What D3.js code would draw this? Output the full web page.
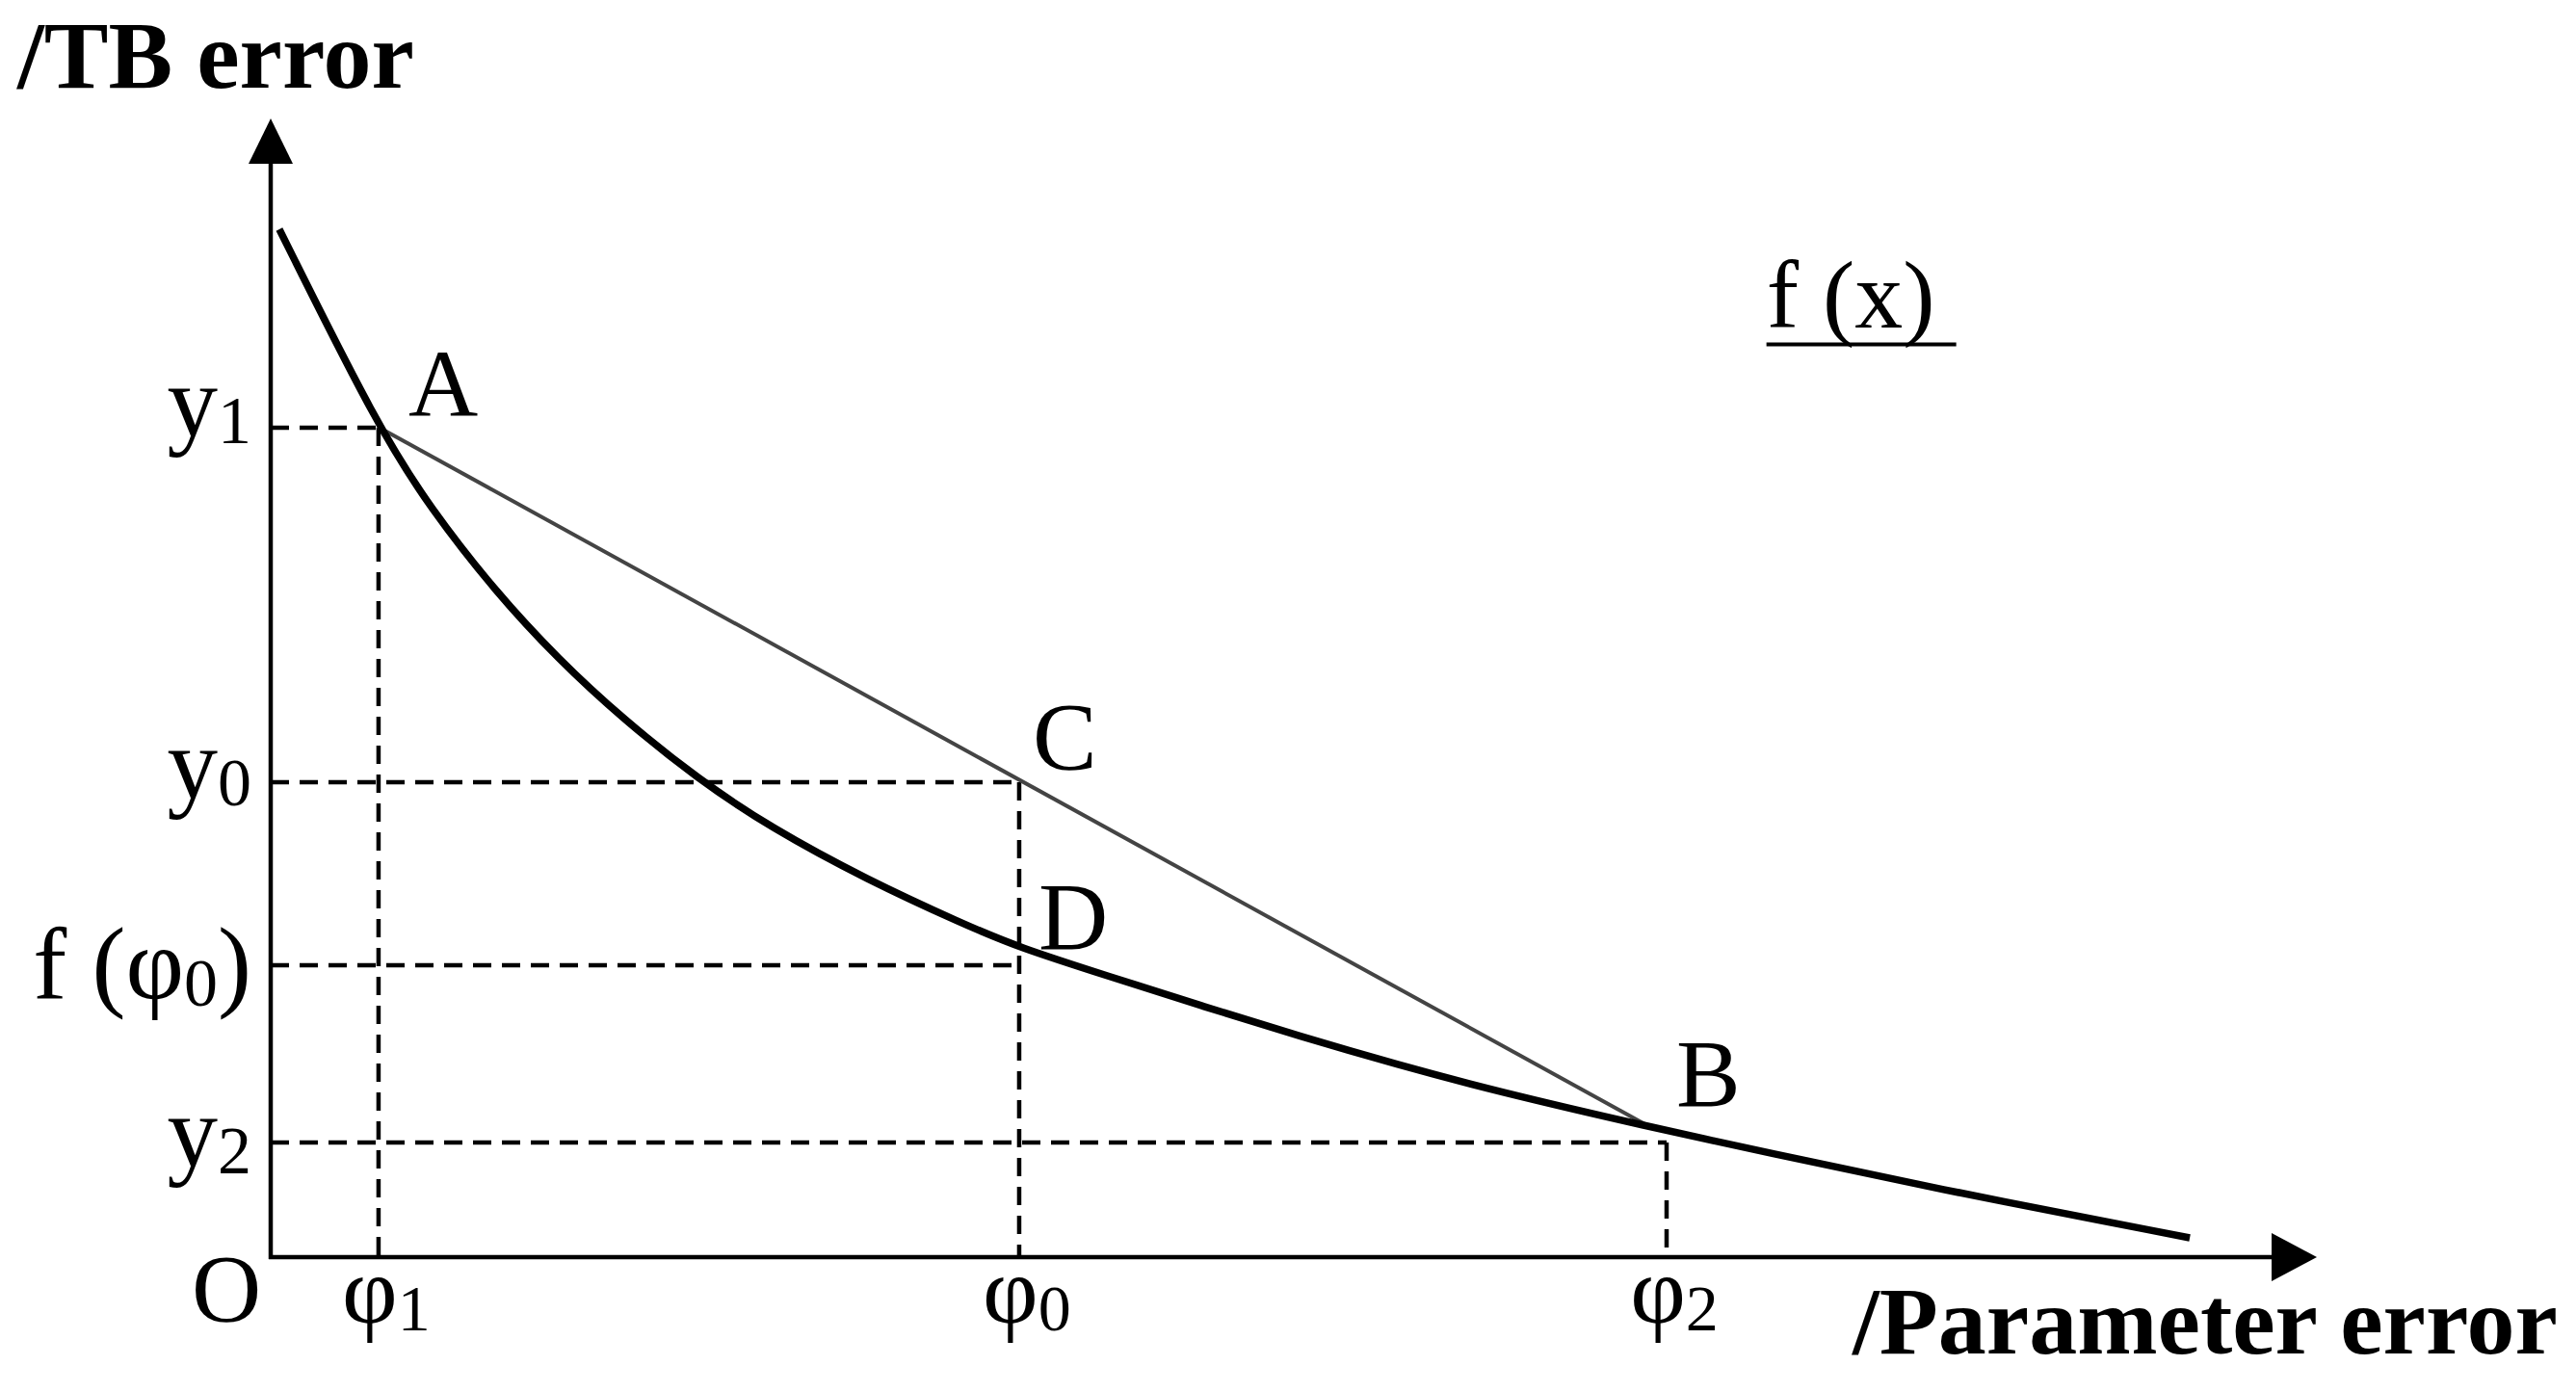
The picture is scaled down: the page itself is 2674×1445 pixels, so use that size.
<!DOCTYPE html>
<html>
<head>
<meta charset="utf-8">
<script src="https://cdn.jsdelivr.net/npm/d3@7"></script>
<style>
  body { margin: 0; background: #fff; }
  text { font-family: "Liberation Serif", "Times New Roman", serif; fill: #000; }
</style>
</head>
<body>
<div id="chart"></div>
<script>
// values, axis units 0..100 (0 = origin, 100 = arrow tip)
// the curve f(x)
const curveX = [0.42, 5.23, 7.82, 10.92, 14.08, 17.23, 20.9, 24.44, 29.14, 33.85,
                36.58, 40.91, 45.62, 50.33, 55.04, 59.75, 67.42, 73.07, 80.93, 93.79];
const curveY = [90.27, 72.93, 65.74, 58.59, 52.46, 47.25, 41.97, 37.72, 33.15, 29.26,
                27.19, 24.7, 22.0, 19.37, 16.92, 14.64, 11.42, 9.22, 6.18, 1.69];

// named points, the chord goes from A to B
const pointNames = ["A", "C", "D", "B"];
const pointX = [5.23, 36.58, 36.58, 67.42];
const pointY = [72.93, 41.71, 27.19, 11.42];

// dashed guides to the y axis
const yTickLabels = [["y", "1"], ["y", "0"], ["f (φ", "0", ")"], ["y", "2"]];
const yTickValues = [72.84, 41.71, 25.63, 10.07];
const yTickReach = [5.27, 36.58, 36.58, 68.22];   // where each guide stops on x

// dashed guides to the x axis
const xTickLabels = [["φ", "1"], ["φ", "0"], ["φ", "2"]];
const xTickValues = [5.27, 36.58, 68.22];
const xTickReach = [72.84, 41.71, 10.07];         // where each guide stops on y

const yTitle = "/TB error";
const xTitle = "/Parameter error";
const curveName = "f (x)";
const curveNameAt = [73.1, 81.6];

const W = 2674, H = 1445;

const svg = d3.select("#chart").append("svg")
  .attr("width", W)
  .attr("height", H);

const x = d3.scaleLinear().domain([0, 100]).range([281, 2405]);
const y = d3.scaleLinear().domain([0, 100]).range([1305, 123]);

// dashed guides
const guides = svg.append("g")
  .attr("stroke", "#000")
  .attr("stroke-width", 4.5)
  .attr("stroke-dasharray", "19,11")
  .attr("fill", "none");

yTickValues.forEach((v, i) => {
  guides.append("line")
    .attr("x1", x(0)).attr("x2", x(yTickReach[i]))
    .attr("y1", y(v)).attr("y2", y(v));
});
xTickValues.forEach((v, i) => {
  guides.append("line")
    .attr("x1", x(v)).attr("x2", x(v))
    .attr("y1", y(xTickReach[i])).attr("y2", y(0));
});

// chord A-B
const a = pointNames.indexOf("A"), b = pointNames.indexOf("B");
svg.append("line")
  .attr("x1", x(pointX[a])).attr("y1", y(pointY[a]))
  .attr("x2", x(pointX[b])).attr("y2", y(pointY[b]))
  .attr("stroke", "#444")
  .attr("stroke-width", 4);

// curve, smoothed through the read points
const line = d3.line()
  .x(d => x(d[0]))
  .y(d => y(d[1]))
  .curve(d3.curveBasis);

svg.append("path")
  .datum(curveX.map((v, i) => [v, curveY[i]]))
  .attr("d", line)
  .attr("fill", "none")
  .attr("stroke", "#000")
  .attr("stroke-width", 7.5);

// axes with arrow heads
svg.append("line")
  .attr("x1", x(0)).attr("y1", y(0) + 2)
  .attr("x2", x(0)).attr("y2", y(100) + 40)
  .attr("stroke", "#000").attr("stroke-width", 4.5);
svg.append("line")
  .attr("x1", x(0) - 2).attr("y1", y(0))
  .attr("x2", x(100) - 40).attr("y2", y(0))
  .attr("stroke", "#000").attr("stroke-width", 4.5);

svg.append("path")
  .attr("d", `M${x(0)},${y(100)} L${x(0) - 23},${y(100) + 47} L${x(0) + 23},${y(100) + 47} Z`)
  .attr("fill", "#000");
svg.append("path")
  .attr("d", `M${x(100)},${y(0)} L${x(100) - 47},${y(0) - 25} L${x(100) - 47},${y(0) + 25} Z`)
  .attr("fill", "#000");

// label helper: main text with a subscript
function addLabel(t, parts, subSize) {
  t.append("tspan").text(parts[0]);
  if (parts.length > 1) {
    t.append("tspan").attr("font-size", subSize).attr("dy", 8).text(parts[1]);
  }
  if (parts.length > 2) {
    t.append("tspan").attr("dy", -8).text(parts[2]);
  }
  return t;
}

// y labels
const yLabelDy = [8, 16, 34, 24];
yTickLabels.forEach((parts, i) => {
  const t = svg.append("text")
    .attr("x", x(0) - 20)
    .attr("y", y(yTickValues[i]) + yLabelDy[i])
    .attr("text-anchor", "end")
    .attr("font-size", 105);
  addLabel(t, parts, 70);
});

// x labels
xTickLabels.forEach((parts, i) => {
  const t = svg.append("text")
    .attr("x", x(xTickValues[i]) + 8)
    .attr("y", y(0) + 68)
    .attr("text-anchor", "middle")
    .attr("font-size", 100);
  addLabel(t, parts, 68);
});

svg.append("text")
  .attr("x", x(0) - 46)
  .attr("y", y(0) + 66)
  .attr("text-anchor", "middle")
  .attr("font-size", 100)
  .text("O");

// point labels
const pointDx = [32, 14, 20, 27];
const pointDy = [-11, -14, 1, -22];
pointNames.forEach((n, i) => {
  svg.append("text")
    .attr("x", x(pointX[i]) + pointDx[i])
    .attr("y", y(pointY[i]) + pointDy[i])
    .attr("font-size", 100)
    .text(n);
});

// curve name, underlined
svg.append("text")
  .attr("x", x(curveNameAt[0]))
  .attr("y", y(curveNameAt[1]))
  .attr("font-size", 100)
  .text(curveName);
svg.append("line")
  .attr("x1", x(curveNameAt[0])).attr("x2", x(curveNameAt[0]) + 197)
  .attr("y1", y(curveNameAt[1]) + 17).attr("y2", y(curveNameAt[1]) + 17)
  .attr("stroke", "#000").attr("stroke-width", 4);

// axis titles
svg.append("text")
  .attr("x", 18).attr("y", 91)
  .attr("font-size", 100)
  .attr("font-weight", "bold")
  .text(yTitle);
svg.append("text")
  .attr("x", 1923).attr("y", 1405)
  .attr("font-size", 100)
  .attr("font-weight", "bold")
  .text(xTitle);
</script>
</body>
</html>
